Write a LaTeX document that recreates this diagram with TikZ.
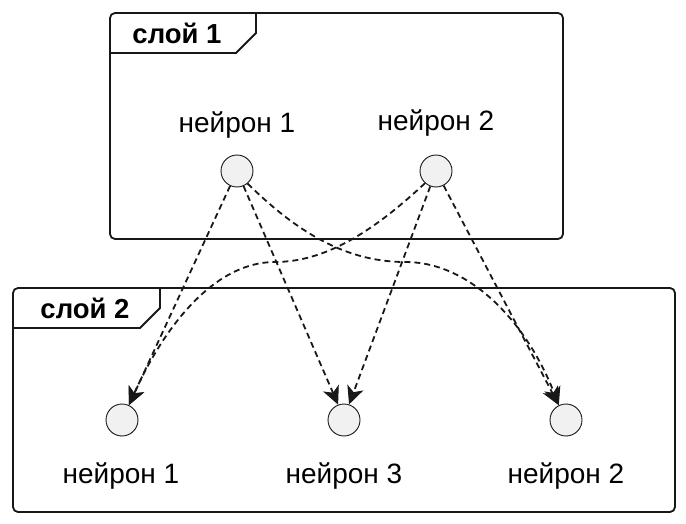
\documentclass[tikz,border=0pt]{standalone}
\usepackage{fontspec}
\setmainfont{Liberation Sans}
\usetikzlibrary{arrows.meta}
\definecolor{ink}{HTML}{181818}
\definecolor{cellfill}{HTML}{F1F1F1}

\begin{document}
\begin{tikzpicture}[x=1pt, y=-1pt, line cap=round,
  neuron/.style={circle, draw=ink, fill=cellfill, line width=0.9pt, minimum size=32pt, inner sep=0pt},
  nlabel/.style={font=\fontsize{28}{32}\selectfont, anchor=base},
  ftitle/.style={font=\fontsize{27.5}{32}\selectfont\bfseries, anchor=base},
  frame/.style={draw=ink, line width=1.8pt},
  link/.style={draw=ink, line width=1.8pt, line cap=butt, dash pattern=on 6pt off 4pt,
    -{Stealth[length=18pt, width=17pt, inset=5pt, line width=1pt]}}]
  \useasboundingbox (0,0) rectangle (686,524);

  % Frames
  \draw[frame, rounded corners=5pt] (110,13) rectangle (563,239);
  \draw[frame] (110,53) -- (236,53) -- (256,33) -- (256,13);
  \node[ftitle] (s1) at (177,44) {слой 1};

  \draw[frame, rounded corners=5pt] (13,288) rectangle (675,512);
  \draw[frame] (13,328) -- (140,328) -- (160,308) -- (160,288);
  \node[ftitle] (s2) at (85,318) {слой 2};

  % Neurons, layer 1
  \node[neuron] (n1t) at (237,171) {};
  \node[neuron] (n2t) at (436,171) {};
  \node[nlabel] (l1t) at (237,133) {нейрон 1};
  \node[nlabel] (l2t) at (436,131) {нейрон 2};

  % Neurons, layer 2
  \node[neuron] (n1b) at (122,420) {};
  \node[neuron] (n3b) at (344,420) {};
  \node[neuron] (n2b) at (566,420) {};
  \node[nlabel] (l1b) at (121,483) {нейрон 1};
  \node[nlabel] (l3b) at (344,483) {нейрон 3};
  \node[nlabel] (l2b) at (566,483) {нейрон 2};

  % Links
  \draw[link] (n1t) -- (n1b.65);
  \draw[link] (n1t) -- (n3b.111);
  \draw[link] (n1t.310) .. controls (290,225) and (340,262) .. (405,262)
                         .. controls (475,262) and (530,330) .. (n2b.116);
  \draw[link] (n2t.228) .. controls (380,225) and (330,262) .. (275,262)
                         .. controls (215,262) and (165,325) .. (n1b.65);
  \draw[link] (n2t) -- (n3b.72);
  \draw[link] (n2t) -- (n2b.116);
\end{tikzpicture}
\end{document}
